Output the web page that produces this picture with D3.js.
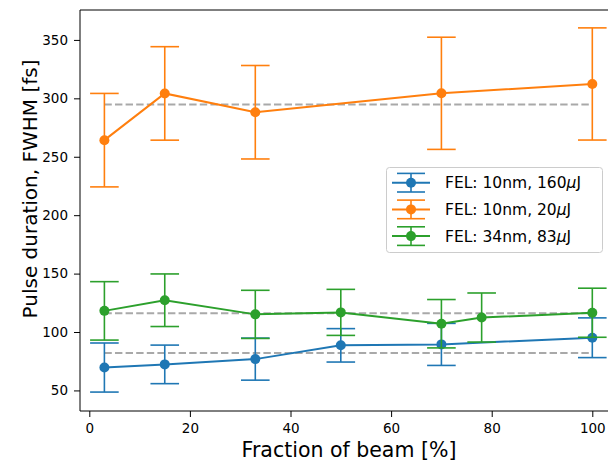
<!DOCTYPE html>
<html>
<head>
<meta charset="utf-8">
<script src="https://cdn.jsdelivr.net/npm/d3@7"></script>
<style>
  body { margin: 0; background: #fff; }
  svg { display: block; font-family: "DejaVu Sans", sans-serif; }
</style>
</head>
<body>
<svg id="chart" width="608" height="462"></svg>
<script>
// values
var xBlue = [3, 15, 33, 50, 70, 100]
var yBlue = [69.6, 72.3, 76.8, 88.6, 89.4, 95.1]
var eBlue = [21, 16.5, 18, 14.3, 18, 17]

var xOrange = [3, 15, 33, 70, 100]
var yOrange = [264.2, 304.2, 288.1, 304.3, 312.3]
var eOrange = [40, 40, 40, 48, 48]

var xGreen = [3, 15, 33, 50, 70, 78, 100]
var yGreen = [118.1, 127.2, 115.1, 116.8, 107.1, 112.4, 116.5]
var eGreen = [25, 22.5, 20.6, 19.7, 20.7, 21, 21]

var meanLevels = [82, 294.7, 116]
var seriesNames = ["FEL: 10nm, 160", "FEL: 10nm, 20", "FEL: 34nm, 83"]
var colors = ["#1f77b4", "#ff7f0e", "#2ca02c"]
var xTicks = [0, 20, 40, 60, 80, 100]
var yTicks = [50, 100, 150, 200, 250, 300, 350]

var series = [
    {x: xBlue, y: yBlue, e: eBlue},
    {x: xOrange, y: yOrange, e: eOrange},
    {x: xGreen, y: yGreen, e: eGreen}
]

function drawChart() {
    var svg = d3.select("#chart")
    var left = 80, topY = 10, bottomY = 411
    var xScale = d3.scaleLinear().domain([-1.85, 104.85]).range([left, 616.7])
    var yScale = d3.scaleLinear().domain([32.4, 375.6]).range([bottomY, topY])

    // dashed mean lines
    svg.selectAll(".mean")
        .data(meanLevels)
        .enter().append("line")
        .attr("class", "mean")
        .attr("x1", xScale(3)).attr("x2", xScale(100))
        .attr("y1", function(d) { return yScale(d) })
        .attr("y2", function(d) { return yScale(d) })
        .attr("stroke", "#a9a9a9")
        .attr("stroke-width", 2)
        .attr("stroke-dasharray", "7.4,3.2")

    var line = d3.line()
    var capHalf = 14.3

    series.forEach(function(s, i) {
        var pts = s.x.map(function(x, j) { return {x: x, y: s.y[j], e: s.e[j]} })
        var g = svg.append("g")
        // error bars
        pts.forEach(function(p) {
            var cx = xScale(p.x), y1 = yScale(p.y + p.e), y2 = yScale(p.y - p.e)
            g.append("line").attr("x1", cx).attr("x2", cx).attr("y1", y1).attr("y2", y2)
                .attr("stroke", colors[i]).attr("stroke-width", 1.6)
            ;[y1, y2].forEach(function(yy) {
                g.append("line").attr("x1", cx - capHalf).attr("x2", cx + capHalf)
                    .attr("y1", yy).attr("y2", yy)
                    .attr("stroke", colors[i]).attr("stroke-width", 1.6)
            })
        })
        g.append("path")
            .attr("d", line(pts.map(function(p) { return [xScale(p.x), yScale(p.y)] })))
            .attr("fill", "none")
            .attr("stroke", colors[i])
            .attr("stroke-width", 2)
        g.selectAll("circle").data(pts).enter().append("circle")
            .attr("cx", function(d) { return xScale(d.x) })
            .attr("cy", function(d) { return yScale(d.y) })
            .attr("r", 5)
            .attr("fill", colors[i])
    })

    // axes
    var xAxis = svg.append("g").attr("transform", "translate(0," + bottomY + ")")
        .call(d3.axisBottom(xScale).tickValues(xTicks).tickSizeOuter(0).tickSize(6).tickPadding(6))
    var yAxis = svg.append("g").attr("transform", "translate(" + left + ",0)")
        .call(d3.axisLeft(yScale).tickValues(yTicks).tickSizeOuter(0).tickSize(6).tickPadding(6))
    ;[xAxis, yAxis].forEach(function(a) {
        a.select(".domain").remove()
        a.attr("font-size", 13.5).attr("font-family", "DejaVu Sans")
        a.selectAll("text").attr("fill", "#000")
        a.selectAll("line").attr("stroke", "#000").attr("stroke-width", 1)
    })
    // spines
    svg.append("line").attr("x1", left).attr("x2", left).attr("y1", topY).attr("y2", bottomY).attr("stroke", "#000")
    svg.append("line").attr("x1", left).attr("x2", 620).attr("y1", topY).attr("y2", topY).attr("stroke", "#000")
    svg.append("line").attr("x1", left).attr("x2", 620).attr("y1", bottomY).attr("y2", bottomY).attr("stroke", "#000")

    // axis labels
    svg.append("text").attr("x", 349).attr("y", 456.5).attr("text-anchor", "middle")
        .attr("font-size", 20.5).text("Fraction of beam [%]")
    svg.append("text").attr("transform", "translate(36.5,189) rotate(-90)").attr("text-anchor", "middle")
        .attr("font-size", 20).text("Pulse duration, FWHM [fs]")

    // legend
    var lg = svg.append("g")
    lg.append("rect").attr("x", 386.5).attr("y", 167.5).attr("width", 216).attr("height", 85)
        .attr("rx", 3).attr("fill", "#fff").attr("fill-opacity", 0.8)
        .attr("stroke", "#cccccc").attr("stroke-width", 1)
    seriesNames.forEach(function(name, i) {
        var cy = 182.7 + i * 26.7
        var c = colors[i]
        lg.append("line").attr("x1", 392).attr("x2", 430).attr("y1", cy).attr("y2", cy).attr("stroke", c).attr("stroke-width", 2)
        lg.append("line").attr("x1", 411).attr("x2", 411).attr("y1", cy - 9.3).attr("y2", cy + 9.3).attr("stroke", c).attr("stroke-width", 1.6)
        ;[cy - 9.3, cy + 9.3].forEach(function(yy) {
            lg.append("line").attr("x1", 397).attr("x2", 425).attr("y1", yy).attr("y2", yy).attr("stroke", c).attr("stroke-width", 1.6)
        })
        lg.append("circle").attr("cx", 411).attr("cy", cy).attr("r", 5).attr("fill", c)
        var t = lg.append("text").attr("x", 445).attr("y", cy + 5.5).attr("font-size", 15.5)
        t.append("tspan").text(name)
        t.append("tspan").attr("font-style", "italic").text("\u03bc")
        t.append("tspan").text("J")
    })
}

drawChart()
</script>
</body>
</html>
